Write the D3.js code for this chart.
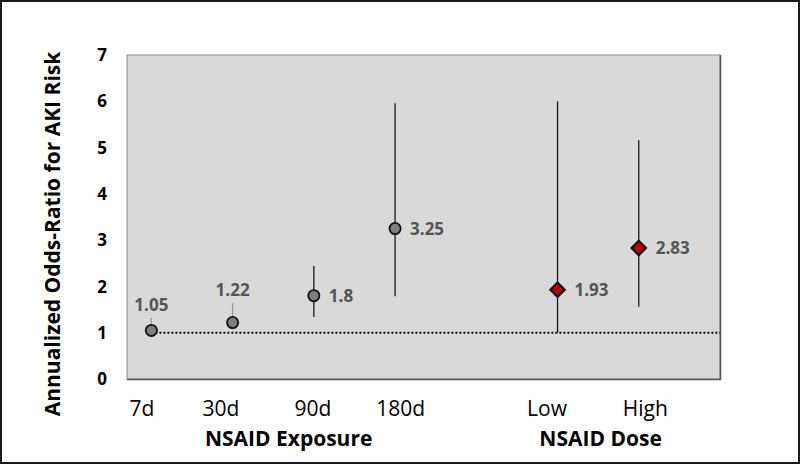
<!DOCTYPE html>
<html><head><meta charset="utf-8">
<script src="https://cdnjs.cloudflare.com/ajax/libs/d3/7.8.5/d3.min.js"></script>
<style>body{margin:0;background:#fff}svg{display:block;font-family:"Open Sans",sans-serif}</style>
</head><body>
<svg id="c" width="800" height="464"></svg>
<script>
// ---- data ----
const categories = ["7d","30d","90d","180d","Low","High"];
const xPos       = [1, 2, 3, 4, 6, 7];
const oddsRatio  = [1.05, 1.22, 1.8, 3.25, 1.93, 2.83];
const ciLower    = [1.0, 1.1, 1.34, 1.79, 1.0, 1.56];
const ciUpper    = [1.32, 1.64, 2.44, 5.96, 6.0, 5.16];
const groupType  = ["exposure","exposure","exposure","exposure","dose","dose"];
const tickLabelPos = [0.885, 1.857, 2.99, 4.07, 5.87, 7.08];
const groupTitles = ["NSAID Exposure","NSAID Dose"];
const groupTitlePos = [2.69, 6.53];
const yTicks = [0,1,2,3,4,5,6,7];
const refLine = 1;

const svg = d3.select("#c");
const x = d3.scaleLinear().domain([0.7, 8]).range([127, 720]);
const y = d3.scaleLinear().domain([0, 7]).range([379, 55]);

// outer border
svg.append("rect").attr("x",1).attr("y",1).attr("width",798).attr("height",462)
  .attr("fill","#fff").attr("stroke","#1a1a1a").attr("stroke-width",2);

// plot area
svg.append("rect").attr("x",x(0.7)).attr("y",y(7)).attr("width",x(8)-x(0.7)).attr("height",y(0)-y(7))
  .attr("fill","#d9d9d9").attr("stroke","#8a8a8a").attr("stroke-width",1);
svg.append("path").attr("d",`M${x(8)+0.5},${y(7)} V${y(0)+0.5} H${x(0.7)}`)
  .attr("fill","none").attr("stroke","#555").attr("stroke-width",1.5);

// y ticks labels
svg.append("g").selectAll("text").data(yTicks).join("text")
  .attr("x",102).attr("y",d=>y(d)).attr("dy","0.36em").attr("text-anchor","middle")
  .attr("font-size",17).attr("font-weight","bold").attr("fill","#000").text(d=>d);

// y title
svg.append("text").attr("transform","translate(60,234) rotate(-90)").attr("text-anchor","middle")
  .attr("font-size",21).attr("font-weight","bold").attr("fill","#000")
  .text("Annualized Odds-Ratio for AKI Risk");

// reference dotted line
svg.append("line").attr("x1",x(xPos[0])).attr("x2",x(8)).attr("y1",y(refLine)).attr("y2",y(refLine))
  .attr("stroke","#111").attr("stroke-width",2).attr("stroke-dasharray","2 2");

const idx = d3.range(categories.length);

// error bars
svg.append("g").selectAll("line").data(idx).join("line")
  .attr("x1",i=>x(xPos[i])).attr("x2",i=>x(xPos[i]))
  .attr("y1",i=>y(ciLower[i])).attr("y2",i=>y(ciUpper[i]))
  .attr("stroke",i=>(ciUpper[i]-ciLower[i])<0.7 ? "#9a9a9a" : "#1a1a1a").attr("stroke-width",1.3);

// markers
const g = svg.append("g");
idx.forEach(i=>{
  const cx = x(xPos[i]), cy = y(oddsRatio[i]);
  if(groupType[i]==="exposure"){
    g.append("circle").attr("cx",cx).attr("cy",cy).attr("r",5.6)
      .attr("fill","#7f7f7f").attr("stroke","#111").attr("stroke-width",1.8);
  } else {
    const h=7.2;
    g.append("path").attr("d",`M${cx},${cy-h}L${cx+h},${cy}L${cx},${cy+h}L${cx-h},${cy}Z`)
      .attr("fill","#c00000").attr("stroke","#111").attr("stroke-width",2.2).attr("stroke-linejoin","miter");
  }
});

// value labels
svg.append("g").selectAll("text").data(idx).join("text")
  .attr("x",i=> i<2 ? x(xPos[i]) : x(xPos[i]) + (groupType[i]==="dose"?17:15))
  .attr("y",i=> i<2 ? y(ciUpper[i]) - 7 : y(oddsRatio[i]))
  .attr("dy",i=> i<2 ? "0" : "0.36em")
  .attr("text-anchor",i=> i<2 ? "middle" : "start")
  .attr("font-size",17).attr("font-weight","bold").attr("fill","#555")
  .text(i=>oddsRatio[i]);

// category tick labels
svg.append("g").selectAll("text").data(idx).join("text")
  .attr("x",i=>x(tickLabelPos[i])).attr("y",416).attr("text-anchor","middle")
  .attr("font-size",21).attr("fill","#000").text(i=>categories[i]);

// group titles
svg.append("g").selectAll("text").data(groupTitles).join("text")
  .attr("x",(d,i)=>x(groupTitlePos[i])).attr("y",446).attr("text-anchor","middle")
  .attr("font-size",21).attr("font-weight","bold").attr("fill","#000").text(d=>d);
</script>
</body></html>
